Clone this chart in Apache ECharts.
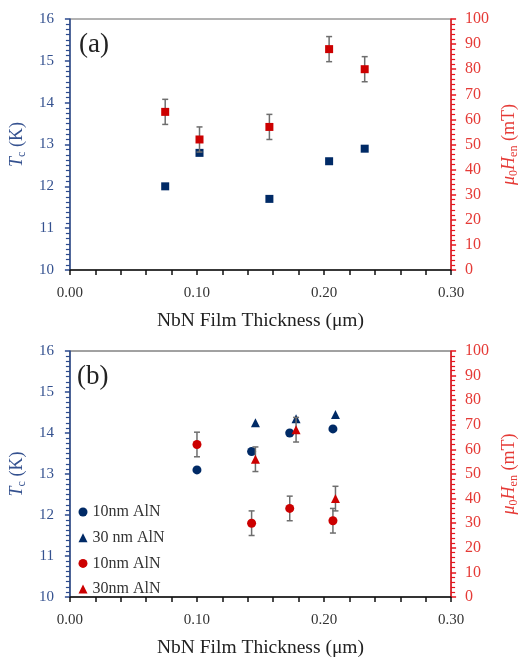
<!DOCTYPE html>
<html><head><meta charset="utf-8">
<script src="https://cdn.jsdelivr.net/npm/echarts@6/dist/echarts.min.js"></script>
<style>html,body{margin:0;padding:0;background:#fff}#c{width:528px;height:659px}</style>
</head><body><div id="c"></div><script>
// ---- Panel (a) data ----
const thickA = [0.075, 0.102, 0.157, 0.204, 0.232];
const tcA = [12.0, 12.8, 11.7, 12.6, 12.9];
const henA = [63, 52, 57, 88, 80];
const henErrA = [5, 5, 5, 5, 5];
// ---- Panel (b) data ----
const thickB10 = [0.100, 0.143, 0.173, 0.207];
const tcB10 = [13.1, 13.55, 14.0, 14.1];
const henB10 = [62, 30, 36, 31];
const henErrB10 = [5, 5, 5, 5];
const thickB30 = [0.146, 0.178, 0.209];
const tcB30 = [14.25, 14.35, 14.45];
const henB30 = [56, 68, 40];
const henErrB30 = [5, 5, 5];
// ---- tick / label settings ----
const xTicks = { min: 0, max: 0.3, interval: 0.1 };
const tcTicks = { min: 10, max: 16, interval: 1 };
const henTicks = { min: 0, max: 100, interval: 10 };
const legendNames = ['10nm AlN', '30 nm AlN', '10nm AlN ', '30nm AlN'];
const panelLabels = ['(a)', '(b)'];
const xTitle = 'NbN Film Thickness (\u03bcm)';

const FONT = '"Liberation Serif", "Times New Roman", serif';
const NAVY = '#002a66', BLUE_AX = '#2b4a8e', BLUE_TXT = '#34518f';
const RED = '#cc0000', RED_AX = '#e8141c', RED_TXT = '#e53a36';
const ERR = '#6e6e6e';

const zip = (a, b) => a.map((v, i) => [v, b[i]]);
const zip3 = (a, b, c) => a.map((v, i) => [v, b[i], c[i]]);

function errRender(params, api) {
  const x = api.value(0), y = api.value(1), e = api.value(2);
  const t = api.coord([x, y + e]), b = api.coord([x, y - e]);
  const w = 3;
  const style = { stroke: ERR, lineWidth: 1.5 };
  return { type: 'group', children: [
    { type: 'line', shape: { x1: t[0], y1: t[1], x2: b[0], y2: b[1] }, style },
    { type: 'line', shape: { x1: t[0] - w, y1: t[1], x2: t[0] + w, y2: t[1] }, style },
    { type: 'line', shape: { x1: b[0] - w, y1: b[1], x2: b[0] + w, y2: b[1] }, style }
  ]};
}

function xAxisFor(g) {
  return {
    type: 'value', gridIndex: g, min: xTicks.min, max: xTicks.max, interval: xTicks.interval,
    axisLine: { show: true, onZero: false, lineStyle: { color: '#111', width: 1.5 } },
    axisTick: { show: true, length: 5, lineStyle: { color: '#111', width: 1.5 } },
    minorTick: { show: true, splitNumber: 5, length: 5, lineStyle: { color: '#111', width: 1.5 } },
    splitLine: { show: false },
    axisLabel: { color: '#333', fontSize: 15, fontFamily: FONT, margin: 16, formatter: v => v.toFixed(2) },
    name: xTitle, nameLocation: 'middle', nameGap: 41,
    nameTextStyle: { color: '#222', fontSize: 19.5, fontFamily: FONT }
  };
}
function tcAxisFor(g) {
  return {
    type: 'value', gridIndex: g, position: 'left', min: tcTicks.min, max: tcTicks.max, interval: tcTicks.interval,
    axisLine: { show: true, lineStyle: { color: BLUE_AX, width: 1.5 } },
    axisTick: { show: true, length: 5, lineStyle: { color: BLUE_AX, width: 1.5 } },
    minorTick: { show: true, splitNumber: 8, length: 4, lineStyle: { color: BLUE_AX, width: 1.2 } },
    splitLine: { show: false },
    axisLabel: { color: BLUE_TXT, fontSize: 15, fontFamily: FONT, margin: 16 },
    name: '{i|T}{s|c}{n| (K)}', nameLocation: 'middle', nameRotate: 90, nameGap: 33,
    nameTextStyle: { color: BLUE_TXT, fontSize: 18, fontFamily: FONT,
      rich: {
        i: { fontStyle: 'italic', fontSize: 18, fontFamily: FONT, color: BLUE_TXT, lineHeight: 22, verticalAlign: 'middle' },
        s: { fontSize: 12, fontFamily: FONT, color: BLUE_TXT, lineHeight: 22, verticalAlign: 'bottom' },
        n: { fontSize: 18, fontFamily: FONT, color: BLUE_TXT, lineHeight: 22, verticalAlign: 'middle' }
      } }
  };
}
function henAxisFor(g) {
  return {
    type: 'value', gridIndex: g, position: 'right', min: henTicks.min, max: henTicks.max, interval: henTicks.interval,
    axisLine: { show: true, lineStyle: { color: RED_AX, width: 1.5 } },
    axisTick: { show: true, length: 5, lineStyle: { color: RED_AX, width: 1.5 } },
    minorTick: { show: true, splitNumber: 5, length: 4, lineStyle: { color: RED_AX, width: 1.2 } },
    splitLine: { show: false },
    axisLabel: { color: RED_TXT, fontSize: 16, fontFamily: FONT, margin: 14 },
    name: '{i|\u03bc}{s|0}{i|H}{s|en}{n| (mT)}', nameLocation: 'middle', nameRotate: 90, nameGap: 45,
    nameTextStyle: { color: RED_TXT, fontSize: 18, fontFamily: FONT,
      rich: {
        i: { fontStyle: 'italic', fontSize: 18, fontFamily: FONT, color: RED_TXT, lineHeight: 22, verticalAlign: 'middle' },
        s: { fontSize: 12, fontFamily: FONT, color: RED_TXT, lineHeight: 22, verticalAlign: 'bottom' },
        n: { fontSize: 18, fontFamily: FONT, color: RED_TXT, lineHeight: 22, verticalAlign: 'middle' }
      } }
  };
}

const chart = echarts.init(document.getElementById('c'), null, { renderer: 'canvas' });
chart.setOption({
  backgroundColor: '#fff',
  animation: false,
  grid: [
    { left: 67, right: 69, top: 19, height: 251, show: true, borderColor: '#666', borderWidth: 1, backgroundColor: 'transparent' },
    { left: 65, right: 68, top: 351, height: 250, show: true, borderColor: '#444', borderWidth: 1, backgroundColor: 'transparent' }
  ],
  xAxis: [xAxisFor(0), xAxisFor(1)],
  yAxis: [tcAxisFor(0), henAxisFor(0), tcAxisFor(1), henAxisFor(1)],
  legend: {
    orient: 'vertical', left: 78.5, top: 504, padding: 0, itemWidth: 9, itemHeight: 9, itemGap: 9.7,
    textStyle: { color: '#333', fontSize: 16, fontFamily: FONT, lineHeight: 16 },
    data: [
      { name: legendNames[0], icon: 'circle' },
      { name: legendNames[1], icon: 'triangle' },
      { name: legendNames[2], icon: 'circle' },
      { name: legendNames[3], icon: 'triangle' }
    ]
  },
  graphic: [
    { type: 'text', left: 79, top: 31, style: { text: panelLabels[0], font: '27px ' + FONT, fill: '#222' } },
    { type: 'text', left: 77, top: 363, style: { text: panelLabels[1], font: '27px ' + FONT, fill: '#222' } }
  ],
  series: [
    // panel (a)
    { type: 'scatter', name: 'Tc a', xAxisIndex: 0, yAxisIndex: 0, symbol: 'rect', symbolSize: 8,
      itemStyle: { color: NAVY, opacity: 1 }, z: 2, data: zip(thickA, tcA) },
    { type: 'custom', name: 'err a', xAxisIndex: 0, yAxisIndex: 1, renderItem: errRender,
      encode: { x: 0, y: 1 }, z: 3, data: zip3(thickA, henA, henErrA) },
    { type: 'scatter', name: 'Hen a', xAxisIndex: 0, yAxisIndex: 1, symbol: 'rect', symbolSize: 8,
      itemStyle: { color: RED, opacity: 1 }, z: 4, data: zip(thickA, henA) },
    // panel (b)
    { type: 'scatter', name: legendNames[0], xAxisIndex: 1, yAxisIndex: 2, symbol: 'circle', symbolSize: 9,
      itemStyle: { color: NAVY, opacity: 1 }, z: 2, data: zip(thickB10, tcB10) },
    { type: 'scatter', name: legendNames[1], xAxisIndex: 1, yAxisIndex: 2, symbol: 'triangle', symbolSize: 9,
      itemStyle: { color: NAVY, opacity: 1 }, z: 2, data: zip(thickB30, tcB30) },
    { type: 'custom', name: 'err b10', xAxisIndex: 1, yAxisIndex: 3, renderItem: errRender,
      encode: { x: 0, y: 1 }, z: 3, data: zip3(thickB10, henB10, henErrB10) },
    { type: 'custom', name: 'err b30', xAxisIndex: 1, yAxisIndex: 3, renderItem: errRender,
      encode: { x: 0, y: 1 }, z: 3, data: zip3(thickB30, henB30, henErrB30) },
    { type: 'scatter', name: legendNames[2], xAxisIndex: 1, yAxisIndex: 3, symbol: 'circle', symbolSize: 9,
      itemStyle: { color: RED, opacity: 1 }, z: 4, data: zip(thickB10, henB10) },
    { type: 'scatter', name: legendNames[3], xAxisIndex: 1, yAxisIndex: 3, symbol: 'triangle', symbolSize: 9,
      itemStyle: { color: RED, opacity: 1 }, z: 4, data: zip(thickB30, henB30) }
  ]
});
</script></body></html>
